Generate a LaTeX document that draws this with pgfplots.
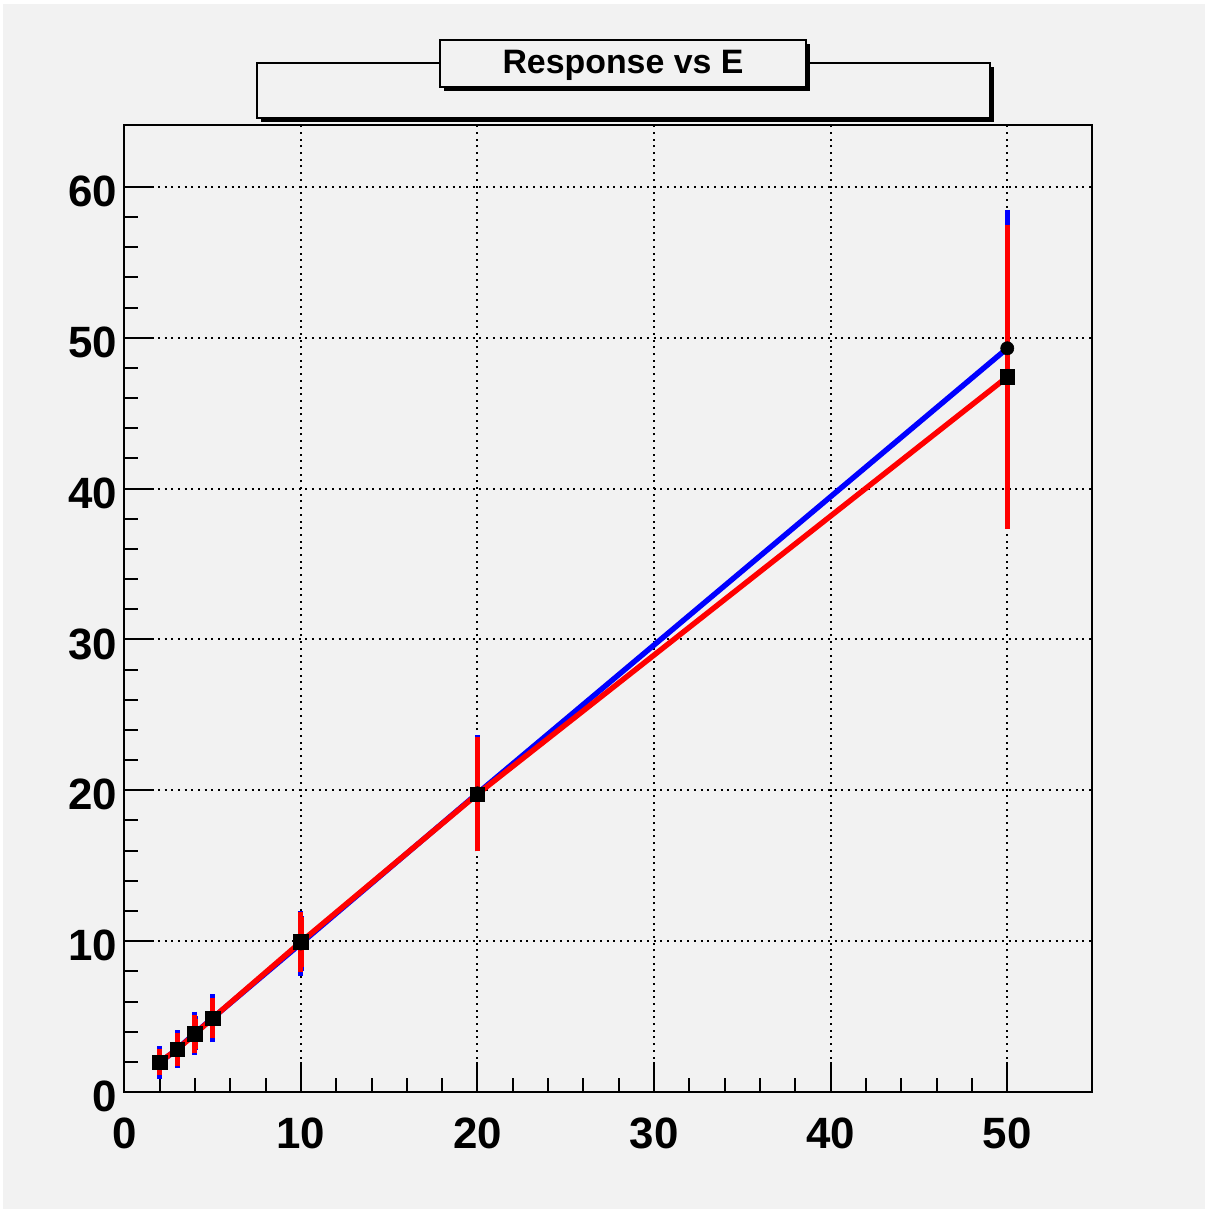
\documentclass[border=0pt]{standalone}
\usepackage{pgfplots}
\pgfplotsset{compat=1.18}
\usepackage{pgfplotstable}
\usepackage{fontspec}
\setmainfont{Liberation Sans}
\definecolor{rootbg}{HTML}{F2F2F2}
\definecolor{rootblue}{RGB}{0,0,255}
\definecolor{rootred}{RGB}{255,0,0}
\pgfplotstableread{
x y e
2 1.95 0.78
3 2.85 0.95
4 3.90 1.12
5 4.90 1.30
10 9.85 1.85
20 19.80 3.55
50 49.30 8.90
}\blue
\pgfplotstableread{
x y e
2 1.99 0.60
3 2.83 0.82
4 3.85 0.98
5 4.90 1.05
10 9.95 1.68
20 19.75 3.50
50 47.40 9.80
}\red
\begin{document}
\begin{tikzpicture}
\begin{scope}[x=0.5bp,y=-0.5bp]
\fill[white] (0,0) rectangle (1205,1209);
\fill[rootbg] (3,4) rectangle (1205,1209);
\useasboundingbox (0,0) rectangle (1205,1209);
% title panes
\fill[black] (261,67) rectangle (994,122);
\filldraw[fill=rootbg,draw=black,line width=0.6bp] (257,63) rectangle (990,118);
\fill[black] (444,44) rectangle (810,91);
\filldraw[fill=rootbg,draw=black,line width=0.6bp] (440,40) rectangle (806,87);
\node[anchor=base,inner sep=0pt,font=\fontsize{17}{20}\selectfont\bfseries] at (623,73.7) {Response vs E};
\end{scope}
\begin{axis}[
  at={(62.15bp,-546bp)}, anchor=south west,
  width=483.85bp, height=483.5bp, scale only axis,
  xmin=0, xmax=54.8, ymin=0, ymax=64.1,
  xtick={0,10,...,50}, ytick={0,10,...,60},
  minor x tick num=4, minor y tick num=4,
  tick align=inside, tick pos=left,
  major tick length=15bp, minor tick length=7bp,
  grid=major,
  major grid style={black,line width=1bp,dash pattern=on 1bp off 2.35bp},
  axis line style={line width=1bp},
  tick style={black,line width=1bp},
  /pgf/number format/assume math mode=true,
  ticklabel style={font=\fontsize{22}{26}\selectfont\bfseries},
  xticklabel style={anchor=base,inner sep=0pt,yshift=-28bp},
  yticklabel style={anchor=base east,inner sep=0pt,xshift=-3.5bp,yshift=-9.8bp},
  clip=false,
]
\addplot[rootblue,line width=2.7bp,no markers,
  error bars/.cd, y dir=both, y explicit,
  error bar style={rootblue,line width=2.7bp},
  error mark options={rootblue,line width=2.5bp,mark size=2.2bp}]
  table[x=x,y=y,y error=e]{\blue};
\addplot[rootred,line width=2.7bp,no markers,
  error bars/.cd, y dir=both, y explicit,
  error bar style={rootred,line width=2.7bp},
  error mark options={rootred,line width=2.5bp,mark size=2.2bp}]
  table[x=x,y=y,y error=e]{\red};
\addplot[only marks,mark=*,mark size=3.3bp,mark options={black,fill=black,line width=0.3bp}]
  table[x=x,y=y]{\blue};
\addplot[only marks,mark=square*,mark size=3.6bp,mark options={black,fill=black,line width=0.3bp}]
  table[x=x,y=y]{\red};
\end{axis}
\end{tikzpicture}
\end{document}
